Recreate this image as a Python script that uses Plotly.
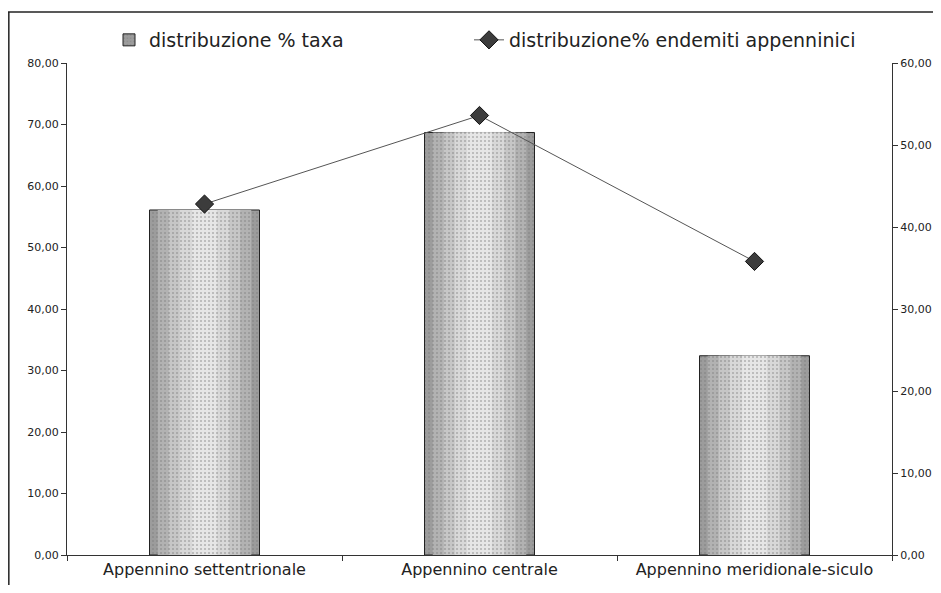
import plotly.graph_objects as go

categories = ["Appennino settentrionale", "Appennino centrale", "Appennino meridionale-siculo"]
taxa_pct = [56.1, 68.7, 32.4]
endemiti_pct = [42.8, 53.6, 35.8]
left_ticks = [0, 10, 20, 30, 40, 50, 60, 70, 80]
right_ticks = [0, 10, 20, 30, 40, 50, 60]

FONT = "DejaVu Sans, Liberation Sans, Arial, sans-serif"

fig = go.Figure()

# gradient approximation: overlaid bars of decreasing width
layers = [
    (0.40, "#9c9c9c", True),
    (0.34, "#b2b2b2", False),
    (0.26, "#c6c6c6", False),
    (0.18, "#d8d8d8", False),
    (0.09, "#e6e6e6", False),
]
for w, col, show in layers:
    fig.add_trace(go.Bar(
        x=categories, y=taxa_pct, width=w,
        name="distribuzione % taxa",
        showlegend=show,
        marker=dict(color=col,
                    line=dict(color="#222222" if show else col, width=1 if show else 0),
                    pattern=dict(shape=".", fgcolor="#7a7a7a", bgcolor=col, size=4, solidity=0.2)),
        yaxis="y", hoverinfo="skip" if not show else None,
    ))

fig.add_trace(go.Scatter(
    x=categories, y=endemiti_pct, yaxis="y2",
    name="distribuzione% endemiti appenninici",
    legend="legend2",
    mode="lines+markers",
    line=dict(color="#555555", width=1),
    marker=dict(symbol="diamond", size=14, color="#3c3c3c", line=dict(color="#111111", width=1)),
))

# page is offset by the 8px browser body margin
OFF = 8
W, H = 941 - 2 * OFF, 593 - 2 * OFF
L, R, T, B = 67 - OFF, 892 - OFF, 63 - OFF, 555 - OFF

leg_common = dict(orientation="h", xref="container", yref="container",
                  xanchor="left", yanchor="middle",
                  font=dict(size=19, family=FONT), bgcolor="rgba(0,0,0,0)",
                  itemwidth=30)

fig.update_layout(
    width=W, height=H,
    margin=dict(l=L, r=W - R, t=T, b=H - B, autoexpand=False),
    paper_bgcolor="white", plot_bgcolor="white",
    barmode="overlay",
    separators=",.",
    font=dict(family=FONT, color="#222222"),
    legend=dict(x=101 / W, y=1 - 32 / H, **leg_common),
    legend2=dict(x=461 / W, y=1 - 32 / H, **leg_common),
    xaxis=dict(showline=True, linecolor="#333333", linewidth=1, ticks="outside",
               tickson="boundaries", ticklen=5, tickcolor="#333333",
               tickfont=dict(size=16, family=FONT), showgrid=False, mirror=False,
               automargin=False),
    yaxis=dict(range=[0, 80], tickvals=left_ticks, tickformat=".2f", showline=True,
               linecolor="#333333", linewidth=1, ticks="outside", ticklen=5,
               tickcolor="#333333", tickfont=dict(size=11, family=FONT), showgrid=False,
               zeroline=False, automargin=False),
    yaxis2=dict(range=[0, 60], tickvals=right_ticks, tickformat=".2f", overlaying="y",
                side="right", showline=True, linecolor="#333333", linewidth=1,
                ticks="outside", ticklen=5, tickcolor="#333333",
                tickfont=dict(size=11, family=FONT), showgrid=False, zeroline=False,
                automargin=False),
    shapes=[
        dict(type="line", xref="paper", yref="paper", x0=(0 - L) / (R - L) + 0.001,
             x1=(0 - L) / (R - L) + 0.001,
             y0=-0.2, y1=(B - 4) / (B - T), line=dict(color="#222222", width=1.5)),
        dict(type="line", xref="paper", yref="paper", x0=(0 - L) / (R - L), x1=1.2,
             y0=(B - 4) / (B - T), y1=(B - 4) / (B - T), line=dict(color="#222222", width=1.5)),
    ],
)

fig.write_html("out.html")
